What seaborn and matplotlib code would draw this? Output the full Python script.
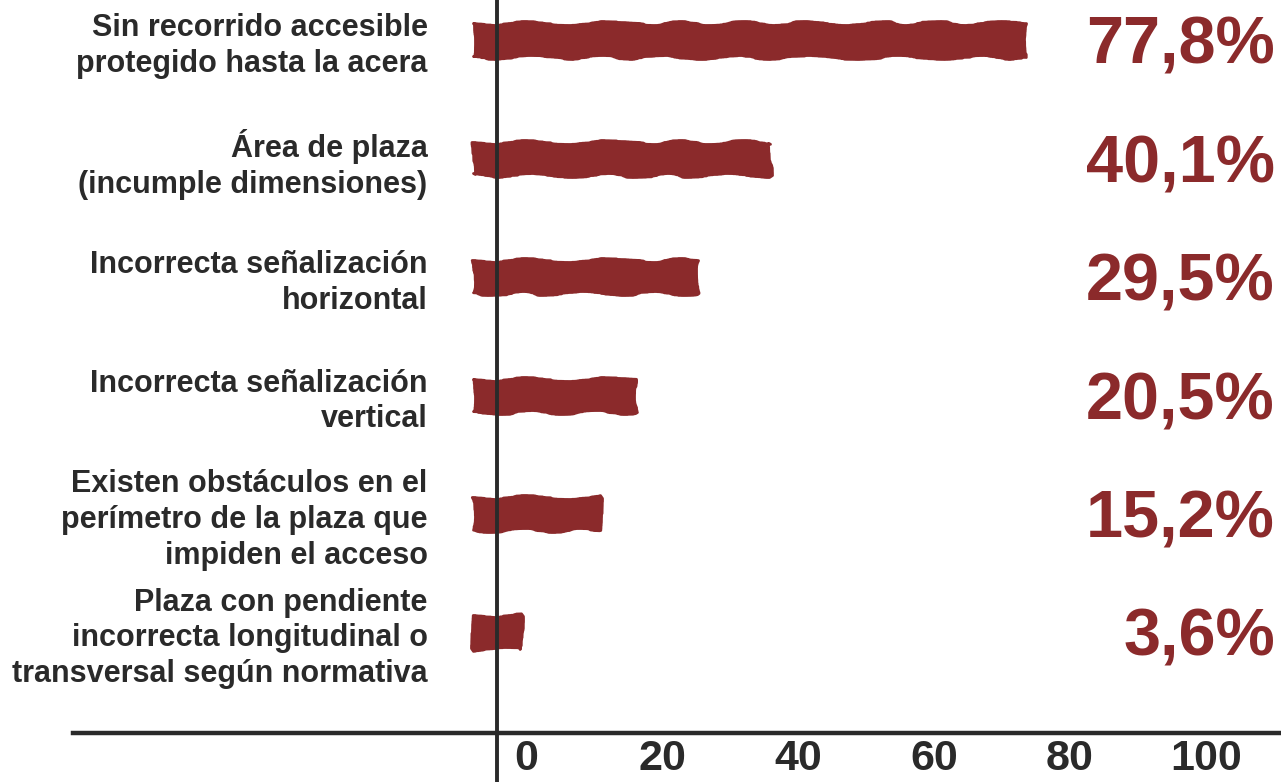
import matplotlib
matplotlib.use("Agg")
import matplotlib.pyplot as plt
import matplotlib.transforms as mtransforms
import seaborn as sns
import pandas as pd

categories = [
    "Sin recorrido accesible\nprotegido hasta la acera",
    "Área de plaza\n(incumple dimensiones)",
    "Incorrecta señalización\nhorizontal",
    "Incorrecta señalización\nvertical",
    "Existen obstáculos en el\nperímetro de la plaza que\nimpiden el acceso",
    "Plaza con pendiente\nincorrecta longitudinal o\ntransversal según normativa",
]
values = [77.8, 40.1, 29.5, 20.5, 15.2, 3.6]
value_labels = ["77,8%", "40,1%", "29,5%", "20,5%", "15,2%", "3,6%"]
x_ticks = [0, 20, 40, 60, 80, 100]

RED = "#8B2A2B"
DARK = "#2A2A2A"

sns.set_theme(style="white")
plt.rcParams["font.family"] = ["Liberation Sans", "DejaVu Sans"]

W, H = 1281, 782
fig = plt.figure(figsize=(W / 100, H / 100), dpi=100)
ax_left, ax_right = 73, 1281
ax_bottom_px, ax_top_px = 733, 0
ax = fig.add_axes([ax_left / W, (H - ax_bottom_px) / H,
                   (ax_right - ax_left) / W, (ax_bottom_px - ax_top_px) / H])

df = pd.DataFrame({"cat": categories, "val": values})
sns.barplot(data=df, x="val", y="cat", color=RED, width=0.28, ax=ax,
            saturation=1, edgecolor=RED, linewidth=2.0)

px_per_unit = 6.8
zero_px = 497
ax.set_xlim(-(zero_px - ax_left) / px_per_unit, (ax_right - zero_px) / px_per_unit)
row0, row_step = 40, 118.4
ax.set_ylim((ax_bottom_px - row0) / row_step, (ax_top_px - row0) / row_step)

# brush-like rough edges; start stroke a little left of the axis
for p in ax.patches:
    w = p.get_width()
    p.set_x(-3.5)
    p.set_width(w + 3.5)
    p.set_sketch_params(scale=2.0, length=180, randomness=12)
    p.set_joinstyle("round")

for sp in ["top", "right"]:
    ax.spines[sp].set_visible(False)
ax.spines["left"].set_position(("data", 0))
ax.spines["left"].set_visible(False)
ax.spines["bottom"].set_color(DARK)
ax.spines["bottom"].set_linewidth(3.2)
ax.axvline(0, ymin=-0.08, ymax=1, color=DARK, lw=2.8, clip_on=False, zorder=5)

ax.set_xlabel("")
ax.set_ylabel("")
ax.set_xticks(x_ticks)
ax.set_xticklabels([str(t) for t in x_ticks])
ax.tick_params(axis="x", length=0, pad=4, labelsize=31, labelcolor=DARK)
ax.tick_params(axis="y", length=0, pad=50, labelsize=22, labelcolor=DARK)
offset = mtransforms.ScaledTranslation(29 / 100, 0, fig.dpi_scale_trans)
for lab in ax.get_xticklabels():
    lab.set_fontweight("bold")
    lab.set_transform(lab.get_transform() + offset)
for lab in ax.get_yticklabels():
    lab.set_fontweight("bold")
    lab.set_horizontalalignment("right")
    lab.set_multialignment("right")
    lab.set_linespacing(1.25)

trans = mtransforms.blended_transform_factory(ax.transAxes, ax.transData)
down = mtransforms.ScaledTranslation(0, -7 / 100, fig.dpi_scale_trans)
for i, lab in enumerate(value_labels):
    ax.text(0.995, i, lab, transform=trans + down, ha="right", va="center",
            fontsize=48, fontweight="bold", color=RED)

ax.grid(False)
fig.savefig("out.png", dpi=100, facecolor="white")
